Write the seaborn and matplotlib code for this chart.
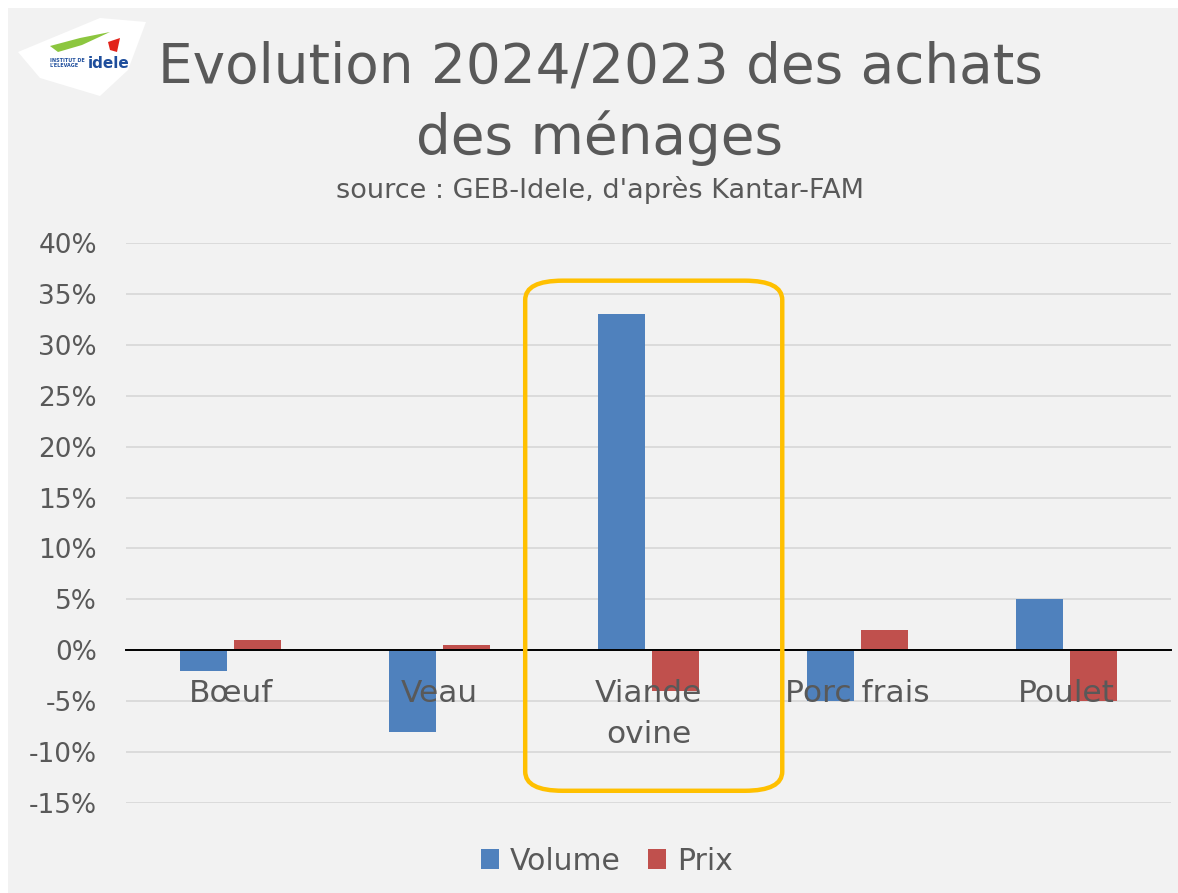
import pandas as pd
import matplotlib.pyplot as plt
import seaborn as sns
from matplotlib.patches import FancyBboxPatch, Rectangle, Polygon

# Données : évolution 2024/2023 des achats des ménages (%)
categories = ['Bœuf', 'Veau', 'Viande\novine', 'Porc frais', 'Poulet']
volume = [-2, -8, 33, -5, 5]
prix = [1, 0.5, -4, 2, -5]
series = ['Volume', 'Prix']
yticks = [-15, -10, -5, 0, 5, 10, 15, 20, 25, 30, 35, 40]

df = pd.DataFrame({
    'categorie': categories * 2,
    'serie': ['Volume'] * len(categories) + ['Prix'] * len(categories),
    'valeur': volume + prix,
})

grey_txt = '#595959'
bg = '#f2f2f2'

sns.set_theme(style='white')
plt.rcParams['font.family'] = ['DejaVu Sans']

W, H = 1178, 893
fig = plt.figure(figsize=(W / 100, H / 100), dpi=100)
fig.patch.set_facecolor('white')


def px(x, y):
    return (x / W, 1 - y / H)


# fond gris avec petite marge blanche en haut à gauche
fig.patches.append(Rectangle(px(8, 893), (W - 8) / W, (H - 8) / H,
                             transform=fig.transFigure, facecolor=bg,
                             edgecolor='none', zorder=-10))

ax = fig.add_axes([126 / W, 1 - 803 / H, (1171 - 126) / W, (803 - 243) / H])
ax.set_facecolor(bg)

sns.barplot(data=df, x='categorie', y='valeur', hue='serie',
            palette=['#4f81bd', '#c0504d'], saturation=1, width=0.51, gap=0.12,
            linewidth=0, ax=ax, zorder=3)

ax.set_ylim(-15, 40)
ax.set_xlim(-0.5, len(categories) - 0.5)
ax.set_yticks(yticks)
ax.set_yticklabels([f'{v}%' for v in yticks], color=grey_txt, fontsize=19)
ax.yaxis.grid(True, color='#d9d9d9', linewidth=1.3)
ax.set_axisbelow(True)
ax.xaxis.set_zorder(5)
ax.set_xlabel('')
ax.set_ylabel('')

for s in ['top', 'right', 'left']:
    ax.spines[s].set_visible(False)
ax.spines['bottom'].set_position(('data', 0))
ax.spines['bottom'].set_color('black')
ax.spines['bottom'].set_linewidth(1.4)
ax.spines['bottom'].set_zorder(4)
ax.tick_params(axis='x', length=0, pad=21, labelsize=22.5, labelcolor=grey_txt)
ax.tick_params(axis='y', length=0, pad=21)
for lab in ax.get_xticklabels():
    lab.set_linespacing(1.5)

sns.move_legend(ax, 'upper center', bbox_to_anchor=(0.46, -0.03), ncol=2,
                frameon=False, title=None, fontsize=21.5, handlelength=0.62,
                handleheight=0.62, columnspacing=0.9, handletextpad=0.35)
for t in ax.get_legend().get_texts():
    t.set_color(grey_txt)

# cadre orange autour de la viande ovine
box = FancyBboxPatch((1.41, -13.8), 1.23, 50.1,
                     boxstyle='round,pad=0,rounding_size=0.18',
                     mutation_aspect=10.5, transform=ax.transData,
                     facecolor='none', edgecolor='#ffc000', linewidth=3.2,
                     zorder=6, clip_on=False)
ax.add_patch(box)

# titres
fig.text(600 / W, 1 - 68 / H, 'Evolution 2024/2023 des achats',
         ha='center', va='center', fontsize=39.5, color=grey_txt)
fig.text(600 / W, 1 - 138 / H, 'des ménages',
         ha='center', va='center', fontsize=39.5, color=grey_txt)
fig.text(600 / W, 1 - 190 / H, "source : GEB-Idele, d'après Kantar-FAM",
         ha='center', va='center', fontsize=19.5, color=grey_txt)

# logo simplifié
logo = Polygon([px(18, 52), px(100, 18), px(146, 22), px(128, 70),
                px(100, 96), px(40, 78)], closed=True,
               transform=fig.transFigure, facecolor='white',
               edgecolor='none', zorder=1)
fig.patches.append(logo)
swoosh = Polygon([px(50, 46), px(80, 38), px(110, 32), px(82, 45), px(58, 52)],
                 closed=True, transform=fig.transFigure, facecolor='#8cc63f',
                 edgecolor='none', zorder=2)
fig.patches.append(swoosh)
flag = Polygon([px(108, 42), px(120, 38), px(117, 52), px(110, 50)],
               closed=True, transform=fig.transFigure, facecolor='#e2231a',
               edgecolor='none', zorder=2)
fig.patches.append(flag)
fig.text(px(50, 63)[0], px(50, 63)[1], "INSTITUT DE\nL'ELEVAGE", fontsize=3.5,
         color='#1f4e9c', fontweight='bold', va='center', ha='left',
         linespacing=1.0)
fig.text(px(88, 64)[0], px(88, 64)[1], 'idele', fontsize=11,
         color='#1f4e9c', fontweight='bold', va='center', ha='left')

fig.savefig('out.png', dpi=100, facecolor=fig.get_facecolor())
